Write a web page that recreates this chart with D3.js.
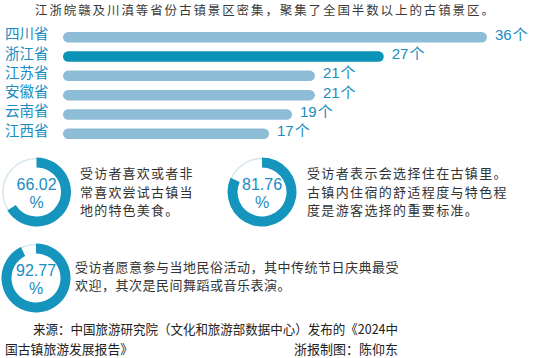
<!DOCTYPE html>
<html>
<head>
<meta charset="utf-8">
<script src="https://cdn.jsdelivr.net/npm/d3@7"></script>
<style>
  html, body { margin: 0; padding: 0; background: #fff; }
  svg { display: block; }
  .cjk { font-family: "Noto Sans CJK SC", "Noto Sans", sans-serif; }
  .num { font-family: "Liberation Sans", Arial, sans-serif; }
</style>
</head>
<body>
<svg id="chart" width="550" height="358"></svg>
<script>
// data
var title = "江浙皖赣及川滇等省份古镇景区密集，聚集了全国半数以上的古镇景区。";
var provinces = ["四川省", "浙江省", "江苏省", "安徽省", "云南省", "江西省"];
var counts = [36, 27, 21, 21, 19, 17];
var highlight = "浙江省";
var unit = "个";

var pctValues = [66.02, 81.76, 92.77];
var pctNotes = [
	["受访者喜欢或者非", "常喜欢尝试古镇当", "地的特色美食。"],
	["受访者表示会选择住在古镇里。", "古镇内住宿的舒适程度与特色程", "度是游客选择的重要标准。"],
	["受访者愿意参与当地民俗活动，其中传统节日庆典最受", "欢迎，其次是民间舞蹈或音乐表演。"]
];
var sourceLines = ["来源：中国旅游研究院（文化和旅游部数据中心）发布的《2024中", "国古镇旅游发展报告》"];
var credit = "浙报制图：陈仰东";

var blue = "#1a8cc0";
var svg = d3.select("#chart");

// title
svg.append("text")
	.attr("class", "cjk")
	.attr("x", 35)
	.attr("y", 14.8)
	.attr("font-size", 12.5)
	.attr("letter-spacing", 1.9)
	.attr("fill", "#3a3a3a")
	.text(title);

// bars
var x = d3.scaleLinear().domain([0, 36]).range([74, 487]);
var y = d3.scaleBand().domain(provinces).range([27.6, 143.4]);
var barH = 10.5;
var barStart = 63;

var rows = svg.append("g").attr("id", "bars")
	.selectAll("g")
	.data(provinces)
	.enter()
	.append("g");

rows.append("rect")
	.attr("x", barStart)
	.attr("y", function(d) { return y(d) + y.bandwidth() / 2 - barH / 2; })
	.attr("width", function(d, i) { return x(counts[i]) - barStart; })
	.attr("height", barH)
	.attr("rx", barH / 2)
	.attr("fill", function(d) { return d == highlight ? "#0b93b8" : "#8dbcd6"; });

rows.append("text")
	.attr("class", "cjk")
	.attr("x", 5)
	.attr("y", function(d) { return y(d) + y.bandwidth() / 2 + 2; })
	.attr("font-size", 14.5)
	.attr("fill", blue)
	.text(function(d) { return d; });

var vlab = rows.append("text")
	.attr("x", function(d, i) { return x(counts[i]) + 8; })
	.attr("y", function(d) { return y(d) + y.bandwidth() / 2 + 2.5; })
	.attr("font-size", 15)
	.attr("fill", blue);
vlab.append("tspan").attr("class", "num").text(function(d, i) { return counts[i]; });
vlab.append("tspan").attr("class", "cjk").attr("dx", 1).text(unit);

// donuts
var donutPos = [[36.5, 192], [262, 192], [36, 278]];
var notePos = [[80, 14.2], [307, 14.35], [75, 13.5]];
var noteDy = [[-19, 0, 18], [-19, 0, 18], [-11, 7]];
var rOut = 34.5, rIn = 24.5;
var arc = d3.arc().innerRadius(rIn).outerRadius(rOut);
var pctScale = d3.scaleLinear().domain([0, 100]).range([0, 2 * Math.PI]);

var donuts = svg.append("g").attr("id", "donuts")
	.selectAll("g")
	.data(pctValues)
	.enter()
	.append("g")
	.attr("transform", function(d, i) { return "translate(" + donutPos[i][0] + "," + donutPos[i][1] + ")"; });

donuts.append("circle")
	.attr("r", rOut - 1)
	.attr("fill", "none")
	.attr("stroke", "#d3e7ef")
	.attr("stroke-width", 1.5);

donuts.append("path")
	.attr("d", function(d) { return arc({startAngle: 0, endAngle: pctScale(d)}); })
	.attr("fill", "#1595bd");

donuts.append("text")
	.attr("class", "num")
	.attr("text-anchor", "middle")
	.attr("y", -2.5)
	.attr("font-size", 16)
	.attr("fill", blue)
	.text(function(d) { return d.toFixed(2); });

donuts.append("text")
	.attr("class", "num")
	.attr("text-anchor", "middle")
	.attr("y", 15.5)
	.attr("font-size", 16)
	.attr("fill", blue)
	.text("%");

// notes next to donuts
pctNotes.forEach(function(lines, k) {
	svg.append("g")
		.selectAll("text")
		.data(lines)
		.enter()
		.append("text")
		.attr("class", "cjk")
		.attr("x", notePos[k][0])
		.attr("y", function(d, i) { return donutPos[k][1] + noteDy[k][i] + 4.5; })
		.attr("font-size", 13)
		.attr("letter-spacing", notePos[k][1] - 13)
		.attr("fill", "#333")
		.text(function(d) { return d; });
});

// source
svg.append("text")
	.attr("class", "cjk")
	.attr("x", 33)
	.attr("y", 334)
	.attr("font-size", 13)
	.attr("textLength", 365)
	.attr("lengthAdjust", "spacingAndGlyphs")
	.attr("fill", "#222")
	.text(sourceLines[0]);

svg.append("text")
	.attr("class", "cjk")
	.attr("x", 5)
	.attr("y", 353.5)
	.attr("font-size", 13)
	.attr("textLength", 128)
	.attr("lengthAdjust", "spacingAndGlyphs")
	.attr("fill", "#222")
	.text(sourceLines[1]);

svg.append("text")
	.attr("class", "cjk")
	.attr("x", 398)
	.attr("y", 353.5)
	.attr("text-anchor", "end")
	.attr("font-size", 13)
	.attr("fill", "#222")
	.text(credit);
</script>
</body>
</html>
